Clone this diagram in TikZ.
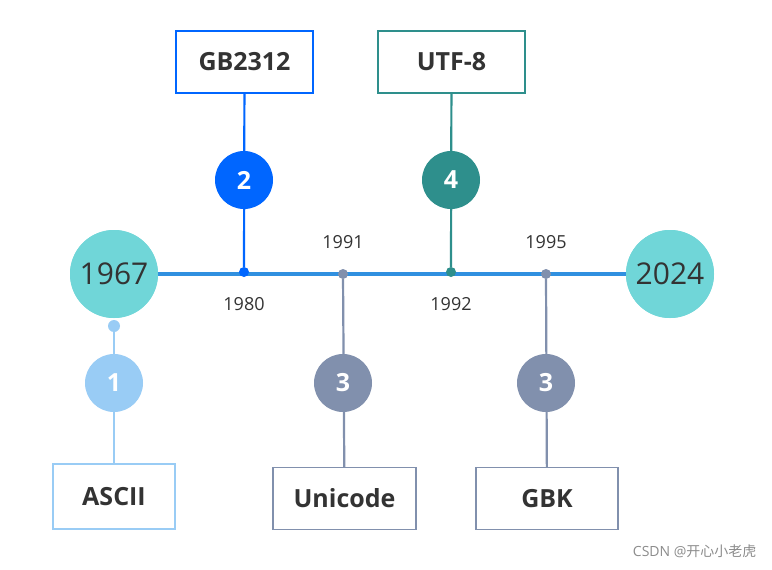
\documentclass[tikz,border=0pt]{standalone}
\usepackage{fontspec}
\setmainfont{Open Sans}
\newfontfamily\cjk{Noto Sans CJK SC}
\begin{document}
\begin{tikzpicture}[x=1pt,y=-1pt,
  box/.style={draw,line width=1.3pt,fill=white,minimum width=#1,minimum height=62pt,font=\bfseries\fontsize{25}{28}\selectfont,text=black!80},
  num/.style={circle,minimum size=58pt,inner sep=0pt,text=white,font=\bfseries\fontsize{25}{28}\selectfont},
  yr/.style={circle,minimum size=88pt,inner sep=0pt,fill=cyanc,text=black!80,font=\fontsize{30}{34}\selectfont},
  dot/.style={circle,minimum size=10pt,inner sep=0pt},
  lab/.style={font=\fontsize{18}{22}\selectfont,text=black!80}]
\definecolor{cyanc}{HTML}{70D6D8}
\definecolor{mainb}{HTML}{3090E0}
\definecolor{gbb}{HTML}{0066FF}
\definecolor{teal2}{HTML}{2E8F8C}
\definecolor{grey2}{HTML}{8190AD}
\definecolor{lb}{HTML}{99CCF5}
\useasboundingbox (0,0) rectangle (772,570);
\fill[white] (0,0) rectangle (772,570);
\node[yr] (y1) at (114,274) {};
\node[yr] (y2) at (670,274) {};
\draw[mainb,line width=3.2pt] (y1) -- (y2);
\node[yr] at (114,274) {1967};
\node[yr] at (670,274) {2024};
% GB2312
\node[box=137pt,draw=gbb] (b2) at (244.5,62) {GB2312};
\node[dot,fill=gbb] (d2) at (244,272) {};
\draw[gbb,line width=2.2pt] (b2) -- (d2);
\node[num,fill=gbb] (n2) at (244,180) {2};
% UTF-8
\node[box=147pt,draw=teal2] (b4) at (451.5,62) {UTF-8};
\node[dot,fill=teal2] (d4) at (451,272) {};
\draw[teal2,line width=2.2pt] (b4) -- (d4);
\node[num,fill=teal2] (n4) at (451,180) {4};
\node[lab] (l1980) at (244,304) {1980};
\node[lab] (l1992) at (451,304) {1992};
\node[lab] (l1991) at (343,242) {1991};
\node[lab] (l1995) at (546,242) {1995};
% Unicode
\node[box=143pt,draw=grey2] (b3) at (344.5,498.5) {Unicode};
\node[dot,fill=grey2] (d3) at (343,274) {};
\draw[grey2,line width=2.2pt] (d3) -- (b3);
\node[num,fill=grey2] (n3) at (343,383) {3};
% GBK
\node[box=142pt,draw=grey2] (b5) at (547,498.5) {GBK};
\node[dot,fill=grey2] (d5) at (546,274) {};
\draw[grey2,line width=2.2pt] (d5) -- (b5);
\node[num,fill=grey2] (n5) at (546,383) {3};
% ASCII
\node[box=122pt,minimum height=65pt,draw=lb] (b1) at (114,496.5) {ASCII};
\node[dot,minimum size=12pt,fill=lb] (d1) at (114,326) {};
\draw[lb,line width=2.2pt] (d1) -- (b1);
\node[num,fill=lb] (n1) at (114,383) {1};
\node[text=black!45,font=\fontsize{14}{16}\selectfont,anchor=east] (wm) at (760,551) {CSDN @{\cjk 开心小老虎}};
\end{tikzpicture}
\end{document}
